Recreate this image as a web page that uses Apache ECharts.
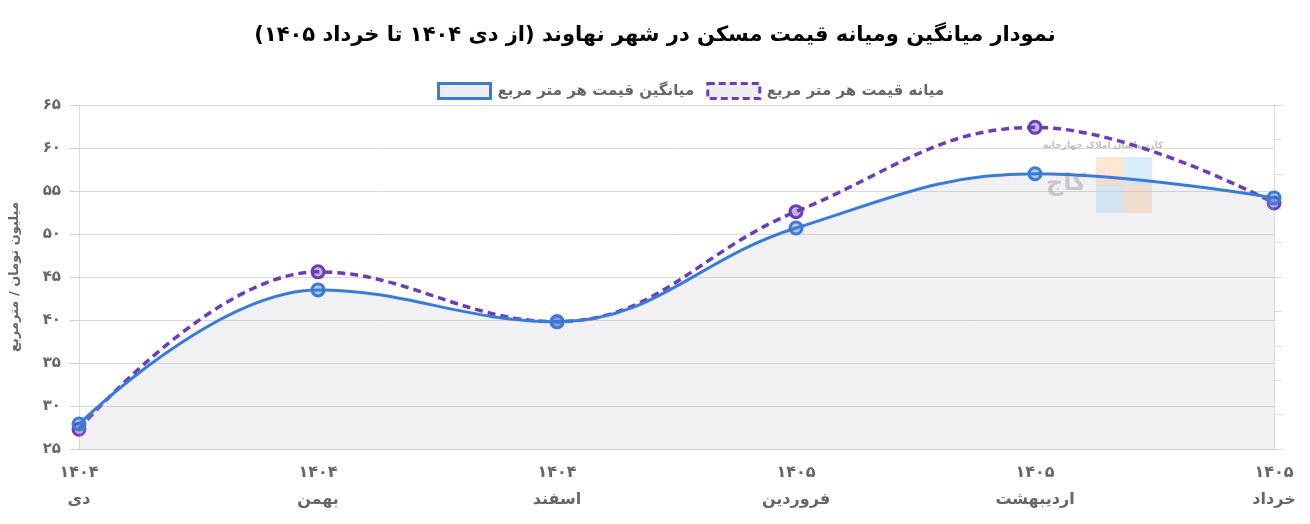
<!DOCTYPE html>
<html>
<head>
<meta charset="utf-8">
<script src="https://cdn.jsdelivr.net/npm/echarts@6/dist/echarts.min.js"></script>
<style>
  html, body { margin: 0; padding: 0; background: #fff; }
  #main { width: 1310px; height: 524px; }
</style>
</head>
<body>
<div id="main"></div>
<script>
// داده‌ها
var months = ['دی', 'بهمن', 'اسفند', 'فروردین', 'اردیبهشت', 'خرداد'];
var years = ['1404', '1404', '1404', '1405', '1405', '1405'];
var avgPrice = [27.9, 43.5, 39.8, 50.7, 57.0, 54.2];
var medianPrice = [27.3, 45.6, 39.8, 52.6, 62.4, 53.6];
var yTicks = [25, 30, 35, 40, 45, 50, 55, 60, 65];

var avgName = 'میانگین قیمت هر متر مربع';
var medianName = 'میانه قیمت هر متر مربع';

var blue = '#3a7bd5';
var purple = '#6a3fb5';
var font = 'DejaVu Sans';

function fa(s) {
  return String(s).replace(/[0-9]/g, function (d) {
    return '۰۱۲۳۴۵۶۷۸۹'[d];
  });
}

var chart = echarts.init(document.getElementById('main'));

var option = {
  backgroundColor: '#fff',
  textStyle: { fontFamily: font },
  title: {
    text: fa('نمودار میانگین ومیانه قیمت مسکن در شهر نهاوند (از دی 1404 تا خرداد 1405)'),
    left: 'center',
    top: 20,
    textStyle: { fontFamily: font, fontSize: 21, fontWeight: 'bold', color: '#000' }
  },
  legend: {
    top: 77,
    left: 432,
    itemWidth: 52,
    itemHeight: 15,
    itemGap: 12,
    textStyle: { fontFamily: font, fontSize: 15, fontWeight: 'bold', color: '#666', padding: [0, 0, 0, 2] },
    data: [
      { name: avgName, icon: 'rect',
        itemStyle: { color: '#eeeef2', borderColor: blue, borderWidth: 3 } },
      { name: medianName, icon: 'rect',
        itemStyle: { color: '#eeeef2', borderColor: purple, borderWidth: 3, borderType: [7, 4] } }
    ]
  },
  grid: { left: 78, right: 36, top: 105, bottom: 75 },
  xAxis: {
    type: 'category',
    boundaryGap: false,
    data: months,
    axisLine: { lineStyle: { color: '#ccc' } },
    axisTick: { show: false },
    splitLine: { show: false },
    axisLabel: {
      interval: 0,
      margin: 10,
      lineHeight: 27,
      color: '#666',
      fontSize: 16,
      fontWeight: 'bold',
      fontFamily: font,
      formatter: function (v, i) { return fa(years[i]) + '\n' + v; }
    }
  },
  yAxis: [{
    type: 'value',
    min: yTicks[0],
    max: yTicks[yTicks.length - 1],
    interval: 5,
    name: 'میلیون تومان / مترمربع',
    nameLocation: 'middle',
    nameGap: 58,
    nameRotate: 90,
    nameTextStyle: { fontFamily: font, fontSize: 13, fontWeight: 'bold', color: '#666' },
    axisLine: { show: true, lineStyle: { color: '#ddd' } },
    axisTick: { show: true, length: 9, lineStyle: { color: '#ccc' } },
    splitLine: { lineStyle: { color: '#d8d8d8' } },
    axisLabel: {
      color: '#666', fontSize: 15, fontWeight: 'bold', fontFamily: font, margin: 18,
      formatter: function (v) { return fa(v); }
    }
  }, {
    type: 'value',
    position: 'right',
    min: 0,
    max: 10,
    interval: 1,
    axisLine: { show: true, lineStyle: { color: '#ddd' } },
    axisTick: { show: true, length: 8, lineStyle: { color: '#ddd' } },
    axisLabel: { show: false },
    splitLine: { show: false }
  }],
  graphic: [
    { type: 'rect', left: 1096, top: 157, shape: { width: 28, height: 28 }, style: { fill: 'rgba(253,200,150,0.45)' }, z: 1 },
    { type: 'rect', left: 1124, top: 157, shape: { width: 28, height: 28 }, style: { fill: 'rgba(170,215,245,0.45)' }, z: 1 },
    { type: 'rect', left: 1096, top: 185, shape: { width: 28, height: 28 }, style: { fill: 'rgba(170,215,245,0.45)' }, z: 1 },
    { type: 'rect', left: 1124, top: 185, shape: { width: 28, height: 28 }, style: { fill: 'rgba(253,200,150,0.45)' }, z: 1 },
    { type: 'text', left: 1043, top: 141, z: 1,
      style: { text: 'کارشناسان املاک چهارخانه', font: 'bold 9px "DejaVu Sans"', fill: 'rgba(150,150,150,0.6)' } },
    { type: 'text', left: 1046, top: 172, z: 1,
      style: { text: 'کاج', font: 'bold 24px "DejaVu Sans"', fill: 'rgba(160,160,160,0.55)' } }
  ],
  series: [
    {
      name: avgName,
      type: 'line',
      data: avgPrice,
      smooth: 0.4,
      symbol: 'circle',
      symbolSize: 12,
      z: 3,
      lineStyle: { color: blue, width: 3 },
      itemStyle: { color: 'rgba(58,123,213,0.4)', borderColor: blue, borderWidth: 3 },
      areaStyle: { color: 'rgba(190,190,205,0.3)', origin: 'start' }
    },
    {
      name: medianName,
      type: 'line',
      data: medianPrice,
      smooth: 0.4,
      symbol: 'circle',
      symbolSize: 12,
      z: 2,
      lineStyle: { color: purple, width: 3.5, type: [8, 5] },
      itemStyle: { color: 'rgba(106,63,181,0.4)', borderColor: purple, borderWidth: 3 }
    }
  ]
};

chart.setOption(option);
</script>
</body>
</html>
